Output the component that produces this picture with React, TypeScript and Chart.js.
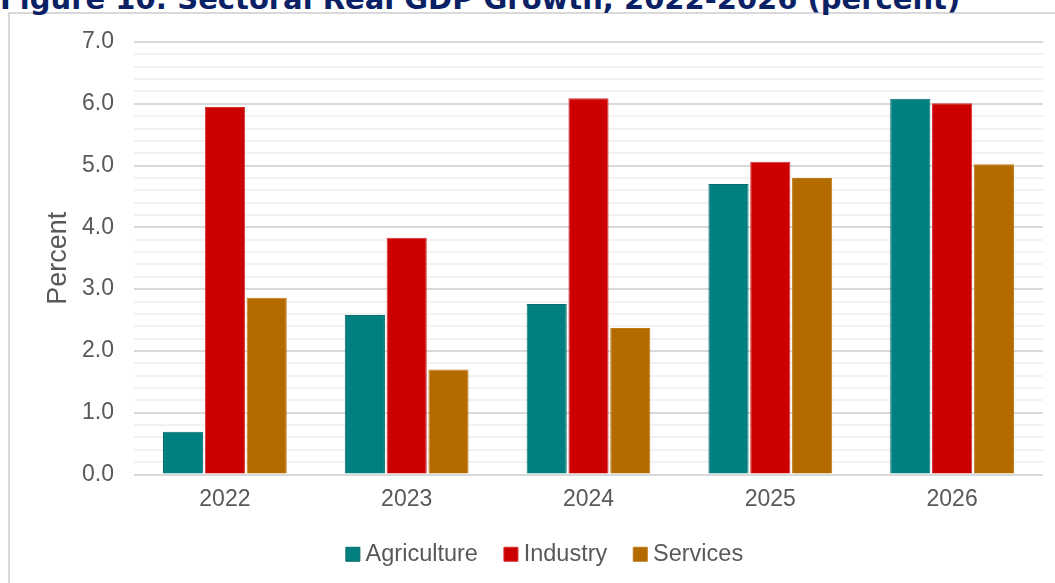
import React, { useEffect, useRef } from 'react';
import { Chart, registerables } from 'chart.js';

Chart.register(...registerables);

const titleText = 'Figure 10: Sectoral Real GDP Growth, 2022-2026 (percent)';
const categories = ['2022', '2023', '2024', '2025', '2026'];
const seriesNames = ['Agriculture', 'Industry', 'Services'];
const agriculture = [0.69, 2.58, 2.76, 4.70, 6.08];
const industry = [5.95, 3.83, 6.09, 5.06, 6.01];
const services = [2.86, 1.70, 2.37, 4.80, 5.02];
const yAxisTitle = 'Percent';
const yMin = 0;
const yMax = 7;
const yStep = 0.2;

const FONT = "'Liberation Sans', Arial, sans-serif";
const TEXT = '#595959';

const legendShift = {
  id: 'legendShift',
  afterLayout(chart: any) {
    const lg = chart.legend;
    if (lg) {
      lg.left += 5;
      lg.right += 5;
    }
  },
};

export default function App() {
  const canvasRef = useRef<HTMLCanvasElement | null>(null);

  useEffect(() => {
    const canvas = canvasRef.current;
    if (!canvas) return;
    const isMajor = (v: number) => Math.abs(v - Math.round(v)) < 1e-6;
    const chart = new Chart(canvas, {
      type: 'bar',
      data: {
        labels: categories,
        datasets: [
          { label: seriesNames[0], data: agriculture, backgroundColor: '#008080', borderColor: '#0a6c6c', borderWidth: 1 },
          { label: seriesNames[1], data: industry, backgroundColor: '#CC0000', borderColor: '#d83030', borderWidth: 1 },
          { label: seriesNames[2], data: services, backgroundColor: '#B36B00', borderColor: '#c07a18', borderWidth: 1 },
        ],
      },
      plugins: [legendShift],
      options: {
        responsive: false,
        animation: false,
        maintainAspectRatio: false,
        layout: { padding: { top: 42, left: 42, right: 12, bottom: 7 } },
        datasets: { bar: { categoryPercentage: 0.69, barPercentage: 0.96 } },
        plugins: {
          tooltip: { enabled: false },
          legend: {
            position: 'bottom',
            labels: {
              usePointStyle: true,
              pointStyle: 'rect',
              boxWidth: 2,
              boxHeight: 14,
              padding: 32,
              color: TEXT,
              font: { family: FONT, size: 23.5 },
            },
          },
        },
        scales: {
          x: {
            grid: { display: false, drawTicks: false },
            border: { display: false },
            ticks: { color: TEXT, font: { family: FONT, size: 23 }, padding: 11 },
            afterFit: (s: any) => { s.height = 36; },
          },
          y: {
            min: yMin,
            max: yMax,
            border: { display: false },
            grid: {
              drawTicks: false,
              lineWidth: 2,
              color: (ctx: any) => (ctx.tick && isMajor(ctx.tick.value) ? '#d9d9d9' : '#f2f2f2'),
            },
            ticks: {
              stepSize: yStep,
              autoSkip: false,
              padding: 20,
              color: TEXT,
              font: { family: FONT, size: 23 },
              callback: (v: any) => (isMajor(Number(v)) ? Number(v).toFixed(1) : ''),
            },
            title: { display: true, text: yAxisTitle, color: TEXT, font: { family: FONT, size: 27 }, padding: 0 },
            afterFit: (s: any) => { s.width = 92; },
          },
        },
      },
    });
    return () => chart.destroy();
  }, []);

  return (
    <div style={{ position: 'fixed', left: 0, top: 0, width: 1055, height: 583, overflow: 'hidden', background: '#fff' }}>
      <div style={{ position: 'absolute', left: 8, top: 12, width: 1200, height: 700, border: '2px solid #d9d9d9', boxSizing: 'border-box' }} />
      <div style={{ position: 'absolute', left: 0, top: -15.5, whiteSpace: 'nowrap', fontFamily: "'DejaVu Sans', sans-serif", fontWeight: 'bold', fontSize: 29, lineHeight: '29px', color: '#0B2166' }}>{titleText}</div>
      <canvas ref={canvasRef} width={1055} height={583} style={{ position: 'absolute', left: 0, top: 0, width: 1055, height: 583 }} />
    </div>
  );
}
